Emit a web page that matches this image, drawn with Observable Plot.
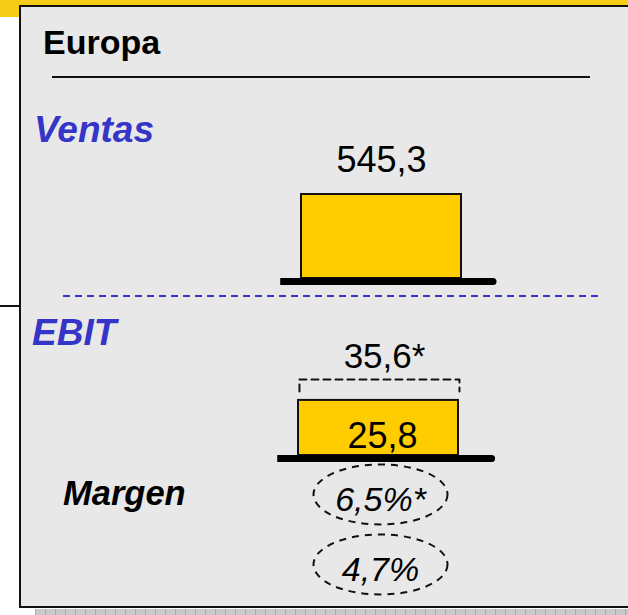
<!DOCTYPE html>
<html>
<head>
<meta charset="utf-8">
<script src="https://cdn.jsdelivr.net/npm/d3@7"></script>
<script src="https://cdn.jsdelivr.net/npm/@observablehq/plot@0.6"></script>
<style>
  html, body { margin: 0; padding: 0; background: #fff; }
  #stage { position: relative; width: 628px; height: 615px; overflow: hidden; background: #fff;
           font-family: "Liberation Sans", Arial, Helvetica, sans-serif; }
  .abs { position: absolute; }
  .lbl { position: absolute; white-space: nowrap; line-height: 1; }
  .layer { position: absolute; left: 0; top: 0; }
</style>
</head>
<body>
<div id="stage"></div>
<script>
// ---------------- data ----------------
const region = "Europa";
const sectionLabels = ["Ventas", "EBIT"];
const rowLabel = "Margen";
const ventasValues = [545.3];
const ventasText = ["545,3"];
const ebitReported = [25.8];
const ebitReportedText = ["25,8"];
const ebitAdjusted = [35.6];
const ebitAdjustedText = ["35,6*"];
const margenValues = [6.5, 4.7];
const margenText = ["6,5%*", "4,7%"];

// ---------------- frame / decoration ----------------
const stage = document.getElementById("stage");
function box(css) { const d = document.createElement("div"); d.className = "abs"; Object.assign(d.style, css); stage.appendChild(d); return d; }
function label(text, left, baseline, size, css) {
  const d = document.createElement("div");
  d.className = "lbl";
  d.textContent = text;
  Object.assign(d.style, {left: left + "px", top: (baseline - 0.8465 * size) + "px", fontSize: size + "px"}, css || {});
  stage.appendChild(d);
  return d;
}
const YELLOW = "#f6cd16";
box({left: "0px", top: "0px", width: "628px", height: "6px", background: YELLOW});
box({left: "0px", top: "0px", width: "20px", height: "17px", background: YELLOW});
// panel
box({left: "19px", top: "5px", width: "700px", height: "603px", boxSizing: "border-box",
     border: "2px solid #111", background: "#e8e8e8"});
// left stub line
box({left: "0px", top: "305px", width: "20px", height: "2px", background: "#111"});
// bottom shadow strip
box({left: "35px", top: "609px", width: "600px", height: "6px",
     background: "repeating-linear-gradient(to right, #a9a9a9 0 1px, #c9c9c9 1px 10px)"});
// title + underline
label(region, 43, 54, 34, {fontWeight: "bold", color: "#000"});
box({left: "52px", top: "76px", width: "538px", height: "2px", background: "#111"});
// section labels
const BLUE = "#3535c8";
label(sectionLabels[0], 34, 142, 37, {fontWeight: "bold", fontStyle: "italic", color: BLUE});
label(sectionLabels[1], 32, 345, 37, {fontWeight: "bold", fontStyle: "italic", color: BLUE});
label(rowLabel, 63, 505, 34.5, {fontWeight: "bold", fontStyle: "italic", color: "#000"});
// dashed blue separator
box({left: "63px", top: "295px", width: "536px", height: "2px",
     background: `repeating-linear-gradient(to right, ${BLUE} 0 7px, transparent 7px 12px)`});

// ---------------- charts ----------------
const FONT = "'Liberation Sans', Arial, Helvetica, sans-serif";
const BAR_FILL = "#ffcc00";
const baseStyle = {background: "transparent", overflow: "visible", fontFamily: FONT};
function layer(svg) { const d = document.createElement("div"); d.className = "layer"; d.appendChild(svg); stage.appendChild(d); }
// base line: square left end, rounded right end
function baseLine(x1, x2) {
  return [
    Plot.ruleY([0], {x1: () => x1, x2: () => x2 - 0.02, stroke: "#000", strokeWidth: 7, strokeLinecap: "butt", dy: 3}),
    Plot.ruleY([0], {x1: () => x2 - 0.04, x2: () => x2, stroke: "#000", strokeWidth: 7, strokeLinecap: "round", dy: 3})
  ];
}

// Ventas
const ventasData = ventasValues.map((v, i) => ({region, v, t: ventasText[i]}));
layer(Plot.plot({
  width: 628, height: 615, margin: 0, style: baseStyle,
  x: {domain: [0, 1], range: [301, 461], axis: null},
  y: {domain: [0, d3.max(ventasValues)], range: [278, 194], axis: null},
  marks: [
    Plot.rect(ventasData, {x1: () => 0, x2: () => 1, y1: () => 0, y2: "v", fill: BAR_FILL, stroke: "#111", strokeWidth: 2}),
    ...baseLine(-0.13, 1.2),
    Plot.text(ventasData, {x: () => 0.5, y: "v", text: "t", dy: -34, fontSize: 36, fill: "#000"})
  ]
}));

// EBIT
const ebitData = ebitReported.map((v, i) => ({region, v, t: ebitReportedText[i], adj: ebitAdjusted[i], ta: ebitAdjustedText[i]}));
const adj = ebitAdjusted[0];
const drop = adj * 12 / 76; // bracket side length in value units
const bracket = [
  {x: 0.006, y: adj - drop}, {x: 0.006, y: adj}, {x: 1.006, y: adj}, {x: 1.006, y: adj - drop}
];
layer(Plot.plot({
  width: 628, height: 615, margin: 0, style: baseStyle,
  x: {domain: [0, 1], range: [298, 458], axis: null},
  y: {domain: [0, d3.max(ebitAdjusted)], range: [455, 379], axis: null},
  marks: [
    Plot.rect(ebitData, {x1: () => 0, x2: () => 1, y1: () => 0, y2: "v", fill: BAR_FILL, stroke: "#111", strokeWidth: 2}),
    ...baseLine(-0.13, 1.21),
    Plot.line(bracket, {x: "x", y: "y", stroke: "#111", strokeWidth: 2, strokeDasharray: "7,5", curve: "linear"}),
    Plot.text(ebitData, {x: () => 0.5, y: "adj", text: "ta", dy: -23, dx: 6, fontSize: 35, fill: "#000"}),
    Plot.text(ebitData, {x: () => 0.5, y: () => 0, text: "t", dy: -19.5, dx: 4, fontSize: 36, fill: "#000"})
  ]
}));

// Margen
const K = 0.5522847498;
const ellipse = {
  draw(context, size) {
    const rx = Math.sqrt(size / Math.PI), ry = rx * 30 / 67;
    context.moveTo(rx, 0);
    context.bezierCurveTo(rx, ry * K, rx * K, ry, 0, ry);
    context.bezierCurveTo(-rx * K, ry, -rx, ry * K, -rx, 0);
    context.bezierCurveTo(-rx, -ry * K, -rx * K, -ry, 0, -ry);
    context.bezierCurveTo(rx * K, -ry, rx, -ry * K, rx, 0);
    context.closePath();
  }
};
const margenData = margenValues.map((v, i) => ({v, t: margenText[i]}));
layer(Plot.plot({
  width: 628, height: 615, margin: 0, style: baseStyle,
  x: {domain: [0, 1], range: [300, 460], axis: null},
  y: {type: "point", domain: margenText, range: [494, 564], padding: 0, axis: null},
  marks: [
    Plot.dot(margenData, {x: () => 0.5, y: "t", r: 67, symbol: ellipse, fill: "none", stroke: "#111", strokeWidth: 2, strokeDasharray: "7,6"}),
    Plot.text(margenData, {x: () => 0.5, y: "t", text: "t", dy: 5.5, fontSize: 34, fontStyle: "italic", fill: "#000"})
  ]
}));
</script>
</body>
</html>
